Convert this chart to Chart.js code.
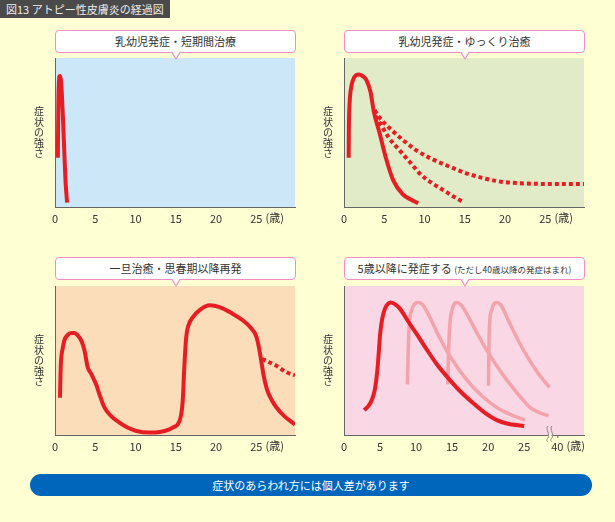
<!DOCTYPE html>
<html>
<head>
<meta charset="utf-8">
<script src="https://cdn.jsdelivr.net/npm/chart.js@4"></script>
<style>
  body { margin: 0; background: #FFFFD4; font-family: 'Noto Sans CJK JP', sans-serif; }
  #page { position: relative; width: 615px; height: 522px; overflow: hidden; background: #FFFFD4; }
  .title { position: absolute; left: 0; top: 0; width: 170px; height: 18px; background: #4A4A4A; color: #EEE; font-size: 11px; line-height: 18px; padding-left: 6px; box-sizing: border-box; }
  .panel { position: absolute; width: 280px; height: 180px; }
  .callout { position: absolute; width: 241px; height: 23px; background: #fff; border: 1px solid #F28DC4; border-radius: 4px; box-sizing: border-box; text-align: center; font-size: 11px; line-height: 21px; color: #333; z-index: 2; white-space: nowrap; }
  .callout::before { content: ''; position: absolute; left: 50%; bottom: -8px; margin-left: -5px; border-left: 5px solid transparent; border-right: 5px solid transparent; border-top: 8px solid #F28DC4; }
  .callout::after { content: ''; position: absolute; left: 50%; bottom: -6px; margin-left: -4px; border-left: 4px solid transparent; border-right: 4px solid transparent; border-top: 7px solid #fff; }
  .callout small { font-size: 8.5px; }
  .banner { position: absolute; left: 30px; top: 474px; width: 562px; height: 22px; background: #0066BB; border-radius: 11px; color: #fff; text-align: center; font-size: 11px; line-height: 22px; }
</style>
</head>
<body>
<div id="page">
  <div class="title">図13 アトピー性皮膚炎の経過図</div>

  <div class="callout" style="left:55px; top:30px;">乳幼児発症・短期間治療</div>
  <div class="callout" style="left:344px; top:30px;">乳幼児発症・ゆっくり治癒</div>
  <div class="callout" style="left:55px; top:257px;">一旦治癒・思春期以降再発</div>
  <div class="callout" style="left:344px; top:257px;">5歳以降に発症する <small>(ただし40歳以降の発症はまれ)</small></div>

  <div class="panel" style="left:30px; top:50px;"><canvas id="c1" width="280" height="180"></canvas></div>
  <div class="panel" style="left:319px; top:50px;"><canvas id="c2" width="280" height="180"></canvas></div>
  <div class="panel" style="left:30px; top:278px;"><canvas id="c3" width="280" height="180"></canvas></div>
  <div class="panel" style="left:319px; top:278px;"><canvas id="c4" width="280" height="180"></canvas></div>

  <div class="banner">症状のあらわれ方には個人差があります</div>
</div>

<script>
// --- data (年齢, 症状の強さ 0-100) ---
const p1Years = [0.35, 0.42, 0.5, 0.6, 0.72, 0.85, 1.0, 1.15, 1.3, 1.5];
const p1Values = [33, 70, 85, 88, 86, 76, 58, 38, 18, 3];

const p2Years = [0.58, 0.6, 0.7, 0.85, 1.1, 1.5, 1.9, 2.4, 2.8, 3.3, 3.7, 4.4, 5.25, 6.1, 7.3, 8.3, 9.2];
const p2Values = [33, 50, 70, 79, 85, 88.5, 89, 87.5, 85, 77, 64, 50, 32, 18, 8.5, 5, 2.5];
const p2SlowYears = [3.8, 4.4, 5.65, 7.3, 9.0, 10.8, 12.7, 15, 17.6, 19.5, 21.7, 25, 29.8];
const p2SlowValues = [65, 60, 53, 45, 38, 32.5, 28, 23, 19, 17, 16, 15.5, 15.5];
const p2MidYears = [3.9, 4.4, 5.5, 6.9, 8.2, 9.4, 10.8, 12.3, 13.6, 14.75];
const p2MidValues = [61, 57, 47, 38, 30, 22.5, 16.5, 11.5, 7, 3.5];

const p3Years = [0.62, 0.68, 0.75, 0.95, 1.16, 1.55, 2.0, 2.4, 2.8, 3.3, 3.65, 4.06, 4.5, 5.1, 5.6, 6.13, 7.0, 8.0, 9.0, 10.1, 11.7, 13.0, 14.2, 14.8, 15.25, 15.6, 15.85, 16.05, 16.3, 16.6, 17.1, 18.0, 19.2, 20.8, 22.0, 23.3, 24.3, 25.0, 25.35, 25.6, 25.9, 26.3, 26.9, 27.5, 28.5, 29.8];
const p3Values = [25, 40, 50, 58, 63.5, 67, 68.5, 68.5, 67, 63, 57, 45.5, 41, 34, 26, 18.5, 12.5, 8.3, 5, 2.7, 1.6, 2, 3.8, 5.5, 7.2, 12, 22, 45, 66, 74, 79, 84, 87, 85, 81.5, 77, 72, 66, 58, 50, 40, 31, 23.5, 18.5, 12.5, 7];
const p3RelapseYears = [25.7, 26.5, 27.5, 28.6, 29.8];
const p3RelapseValues = [51, 49, 46.5, 42.5, 40];

const p4Years = [2.8, 3.4, 3.9, 4.3, 4.6, 4.85, 5.0, 5.3, 5.7, 6.1, 6.5, 7.0, 7.73, 8.8, 10.05, 11.4, 12.8, 14.4, 16.05, 17.9, 19.8, 21.2, 22.6, 25];
const p4Values = [16.7, 19.5, 24, 31, 42, 57, 67, 78, 85, 88, 89, 88, 85, 77, 68, 58, 48, 38.5, 29.7, 21.5, 14, 10, 7.7, 6];
const p4aYears = [8.8, 8.9, 9.07, 9.4, 9.8, 10.3, 10.9, 11.9, 13.0, 14.2, 15.8, 17.5, 19.3, 21.2, 23.2, 25.1];
const p4aValues = [34, 55, 75, 84, 88, 89, 87.5, 79, 68, 57, 45, 34.3, 25.5, 18.5, 13.5, 10];
const p4bYears = [14.4, 14.5, 14.7, 15.0, 15.3, 15.65, 16.3, 17.3, 18.5, 19.8, 21.4, 23, 24.4, 25.8, 27.1, 28.4];
const p4bValues = [34, 55, 75, 84, 88, 89, 87, 79, 68, 57, 45, 34.3, 26, 18.5, 15, 12.8];
const p4cYears = [20.05, 20.1, 20.2, 20.5, 20.8, 21.2, 21.8, 22.6, 23.7, 24.9, 27, 28.5];
const p4cValues = [33, 55, 75, 84, 88, 89, 87, 79, 68, 57, 41, 32];

const ageTicks = [0, 5, 10, 15, 20, 25];
const ageTickLabels = ['0', '5', '10', '15', '20', '25'];
const p4Ticks = [0, 5, 10, 15, 20, 25, 29.6];
const p4TickLabels = ['0', '5', '10', '15', '20', '25', '40'];

const RED = '#E61E24';
const PINK = '#F2A3AC';

Chart.defaults.font.family = "'Noto Sans CJK JP', sans-serif";

const pts = (xs, ys) => xs.map((x, i) => ({ x: x, y: ys[i] }));

const line = (xs, ys, color, width, dash) => ({
  data: pts(xs, ys),
  borderColor: color,
  borderWidth: width,
  borderDash: dash || [],
  pointRadius: 0,
  fill: false,
  cubicInterpolationMode: 'monotone',
  borderCapStyle: 'butt',
});

// 背景・縦軸ラベル・(歳) の描画
const panelPlugin = {
  id: 'panel',
  beforeDraw(chart, args, opts) {
    const { ctx, chartArea: a } = chart;
    ctx.save();
    ctx.fillStyle = opts.bg;
    ctx.fillRect(a.left, a.top, a.right - a.left, a.bottom - a.top);
    ctx.restore();
  },
  afterDraw(chart, args, opts) {
    const { ctx, chartArea: a } = chart;
    const xs = chart.scales.x;
    ctx.save();
    ctx.fillStyle = '#333';
    ctx.font = "10px 'Noto Sans CJK JP'";
    ctx.textAlign = 'center';
    ctx.textBaseline = 'middle';
    const chars = ['症', '状', 'の', '強', 'さ'];
    const cy = (a.top + a.bottom) / 2;
    chars.forEach((c, i) => ctx.fillText(c, a.left - 16, cy + (i - 2) * 10.5));

    // (歳)
    ctx.font = "11px 'Noto Sans CJK JP'";
    const lastVal = opts.lastTick;
    const px = xs.getPixelForValue(lastVal);
    const w = ctx.measureText(opts.lastLabel).width;
    ctx.textAlign = 'left';
    ctx.fillText('(歳)', px + w / 2 + 3, a.bottom + 11);

    if (opts.breakAt) {
      const bx = xs.getPixelForValue(opts.breakAt);
      const by = a.bottom;
      ctx.fillStyle = '#FFFFD4';
      ctx.fillRect(bx - 1, by - 1, 3, 3);
      ctx.strokeStyle = '#888';
      ctx.lineWidth = 1;
      [bx - 1.5, bx + 2.5].forEach((x0) => {
        ctx.beginPath();
        ctx.moveTo(x0, by - 9);
        ctx.bezierCurveTo(x0 - 3, by - 5, x0 + 3, by - 1, x0, by + 3);
        ctx.bezierCurveTo(x0 - 2, by + 5, x0 - 1, by + 6, x0, by + 7);
        ctx.stroke();
      });
      const tx = xs.getPixelForValue(lastVal);
      ctx.strokeStyle = '#666';
      ctx.beginPath();
      ctx.moveTo(tx + 0.5, by);
      ctx.lineTo(tx + 0.5, by + 3);
      ctx.stroke();
    }
    ctx.restore();
  },
};

function makeChart(id, bg, datasets, xMax, tickVals, tickLabels, breakAt) {
  const ctx = document.getElementById(id).getContext('2d');
  return new Chart(ctx, {
    type: 'line',
    data: { datasets: datasets },
    options: {
      responsive: false,
      animation: false,
      layout: { padding: { top: 8, right: 15, left: 0, bottom: 0 } },
      plugins: {
        legend: { display: false },
        tooltip: { enabled: false },
        panel: {
          bg: bg,
          lastTick: tickVals[tickVals.length - 1],
          lastLabel: tickLabels[tickLabels.length - 1],
          breakAt: breakAt,
        },
      },
      scales: {
        x: {
          type: 'linear',
          min: 0,
          max: xMax,
          grid: { display: false, drawTicks: false },
          border: { color: '#666', width: 1 },
          afterBuildTicks: (scale) => { scale.ticks = tickVals.map((v) => ({ value: v })); },
          afterFit: (scale) => { scale.height = 23; },
          ticks: {
            padding: 5,
            color: '#333',
            font: { size: 11 },
            maxRotation: 0,
            autoSkip: false,
            callback: (v) => {
              const i = tickVals.indexOf(v);
              return i >= 0 ? tickLabels[i] : '';
            },
          },
        },
        y: {
          min: 0,
          max: 100,
          grid: { display: false, drawTicks: false },
          border: { color: '#666', width: 1 },
          ticks: { display: false },
          afterFit: (scale) => { scale.width = 25; },
        },
      },
    },
    plugins: [panelPlugin],
  });
}

makeChart('c1', '#CCE8F8', [
  line(p1Years, p1Values, RED, 4),
], 29.8, ageTicks, ageTickLabels);

makeChart('c2', '#E1EBC8', [
  line(p2Years, p2Values, RED, 4),
  line(p2SlowYears, p2SlowValues, RED, 4, [4, 3]),
  line(p2MidYears, p2MidValues, RED, 4, [4, 3]),
], 29.8, ageTicks, ageTickLabels);

makeChart('c3', '#FCDDB9', [
  line(p3Years, p3Values, RED, 4),
  line(p3RelapseYears, p3RelapseValues, RED, 4, [4, 3]),
], 29.8, ageTicks, ageTickLabels);

makeChart('c4', '#F9D7E5', [
  line(p4Years, p4Values, RED, 4),
  line(p4aYears, p4aValues, PINK, 3.5),
  line(p4bYears, p4bValues, PINK, 3.5),
  line(p4cYears, p4cValues, PINK, 3.5),
], 33.3, p4Ticks, p4TickLabels, 28.5);
</script>
</body>
</html>
